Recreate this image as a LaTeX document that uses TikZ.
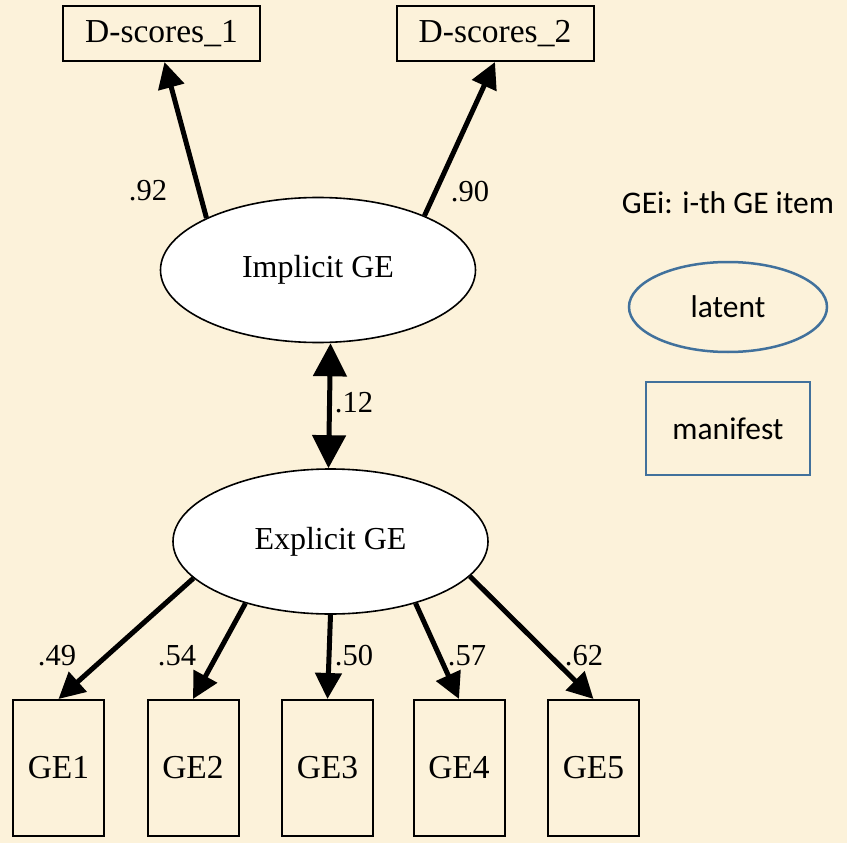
\documentclass[tikz,border=0pt]{standalone}
\usepackage{fontspec}
\setmainfont{Liberation Serif}
\newfontfamily\legendfont{Carlito}
\usetikzlibrary{positioning,shapes.geometric,arrows.meta}
\definecolor{parchment}{RGB}{252,242,218}
\definecolor{legendblue}{RGB}{65,113,156}
\tikzset{
  manifest/.style={draw, line width=2pt, inner sep=0pt, font=\fontsize{33.5}{40}\selectfont},
  latent/.style={ellipse, draw, fill=white, line width=1.6pt, minimum width=315pt,
    minimum height=145pt, inner sep=0pt, font=\fontsize{32}{38}\selectfont},
  loading/.style={line width=5pt, -{Triangle[length=26pt,width=26pt]}},
  coef/.style={inner sep=0pt, font=\fontsize{30.5}{36}\selectfont},
  legendtxt/.style={font=\legendfont\fontsize{31.5}{37}\selectfont}
}

\begin{document}
\begin{tikzpicture}[x=1pt, y=-1pt]
  \fill[parchment] (0,0) rectangle (847,843);
  \useasboundingbox (0,0) rectangle (847,843);

  \node[latent] (impl) at (318,270) {Implicit GE};
  \node[latent] (expl) at (330.5,541.5) {Explicit GE};

  \node[manifest, minimum width=197pt, minimum height=55pt] (d1) at (161.5,33.5) {D-scores\_1};
  \node[manifest, minimum width=197pt, minimum height=55pt] (d2) at (495,33.5) {D-scores\_2};

  \foreach \i/\x in {1/58.5,2/193,3/327.5,4/459,5/593.5}
    \node[manifest, minimum width=91pt, minimum height=136pt] (ge\i) at (\x,768) {GE\i};

  \draw[loading] (impl.155) -- ([xshift=3pt]d1.south);
  \draw[loading] (impl.27) -- (d2.south);
  \draw[line width=5pt, {Triangle[length=33pt,width=33pt]}-{Triangle[length=33pt,width=33pt]}]
    (expl.north |- impl.south) -- ([xshift=-2pt]expl.north);

  \foreach \i/\a in {1/195,2/216,3/270,4/324.5,5/346}
    \draw[loading] (expl.\a) -- (ge\i.north);

  \node[coef] (l1) at (148,191) {.92};
  \node[coef] (l2) at (470,192) {.90};
  \node[coef] (r12) at (354,403) {.12};
  \foreach \i/\v/\x in {1/.49/57,2/.54/177,3/.50/354,4/.57/467,5/.62/584}
    \node[coef] (g\i) at (\x,656) {\v};

  \node[legendtxt] (key) at (728,203) {GEi: i-th GE item};
  \node[ellipse, draw=legendblue, line width=2.5pt, minimum width=198pt, minimum height=90pt,
    inner sep=0pt, legendtxt] (keylat) at (728,307) {latent};
  \node[draw=legendblue, line width=2.5pt, minimum width=164pt, minimum height=93pt,
    inner sep=0pt, legendtxt] (keyman) at (728,428.5) {manifest};
\end{tikzpicture}
\end{document}
